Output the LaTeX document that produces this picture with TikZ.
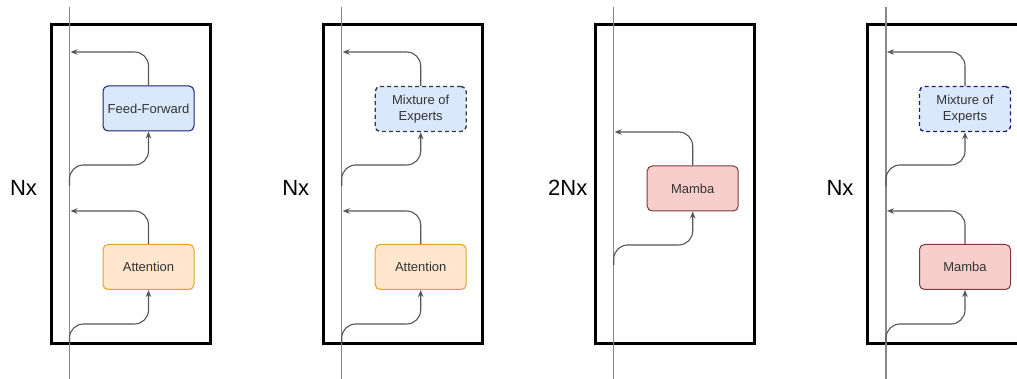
\documentclass[tikz,border=0pt]{standalone}
\usepackage{fontspec}
\setmainfont{Liberation Sans}
\usetikzlibrary{arrows.meta}
\definecolor{ffFill}{HTML}{DAE8FC}
\definecolor{ffDraw}{HTML}{1C1C7A}
\definecolor{moeGray}{HTML}{36393D}
\definecolor{attFill}{HTML}{FFE6CC}
\definecolor{attDraw}{HTML}{DBA628}
\definecolor{mamFill}{HTML}{F8CECC}
\definecolor{mamDraw}{HTML}{7A3A3A}
\definecolor{txt}{HTML}{333333}
\definecolor{conncol}{HTML}{555555}
\definecolor{residcol}{HTML}{888888}
\tikzset{
  frame/.style={draw=black, line width=3pt},
  resid/.style={draw=residcol, line width=1.2pt},
  blk/.style={rounded corners=5pt, minimum width=91pt, minimum height=45pt, inner sep=0pt,
    font=\fontsize{13}{16}\selectfont, text=txt, line width=1pt, align=center},
  ffbox/.style={blk, fill=ffFill, draw=ffDraw},
  moegray/.style={blk, fill=ffFill, draw=moeGray, line width=1.4pt, dash pattern=on 4pt off 3pt},
  moenavy/.style={blk, fill=ffFill, draw=ffDraw, line width=1.4pt, dash pattern=on 4pt off 3pt},
  attbox/.style={blk, fill=attFill, draw=attDraw},
  mambox/.style={blk, fill=mamFill, draw=mamDraw},
  conn/.style={draw=conncol, line width=1.1pt, rounded corners=14pt, -{Stealth[length=7pt,width=5.5pt]}},
  nlab/.style={font=\fontsize{22}{26}\selectfont, text=black},
}
\begin{document}
\begin{tikzpicture}[x=1pt,y=-1pt]
\useasboundingbox (0,0) rectangle (1017,379);
\clip (0,0) rectangle (1017,379);

% ---------- Panel 1 ----------
\begin{scope}[xshift=69.5pt]
\node[nlab] (n1) at (-46,188) {Nx};
\draw[frame] (-18.5,25) rectangle (140.5,343);
\coordinate (t1) at (0,7);
\coordinate (b1) at (0,379);
\draw[resid] (t1) -- (b1);
\node[attbox] (a1) at (79,267) {Attention};
\node[ffbox] (f1) at (79,108.5) {Feed-Forward};
\coordinate (s1a) at (0,343);
\coordinate (h1a) at (79,324);
\coordinate (r1a) at (1,211);
\coordinate (s1b) at (0,186);
\coordinate (h1b) at (79,165);
\coordinate (r1b) at (1,52);
\draw[conn] (s1a) |- (h1a) -- (a1.south);
\draw[conn] (a1.north) |- (r1a);
\draw[conn] (s1b) |- (h1b) -- (f1.south);
\draw[conn] (f1.north) |- (r1b);
\end{scope}

% ---------- Panel 2 ----------
\begin{scope}[xshift=341.7pt]
\node[nlab] (n2) at (-46,188) {Nx};
\draw[frame] (-18.5,25) rectangle (140.5,343);
\coordinate (t2) at (0,7);
\coordinate (b2) at (0,379);
\draw[resid] (t2) -- (b2);
\node[attbox] (a2) at (79,267) {Attention};
\node[moegray] (m2) at (79,109) {Mixture of\\Experts};
\coordinate (s2a) at (0,343);
\coordinate (h2a) at (79,324);
\coordinate (r2a) at (1,211);
\coordinate (s2b) at (0,186);
\coordinate (h2b) at (79,165);
\coordinate (r2b) at (1,52);
\draw[conn] (s2a) |- (h2a) -- (a2.south);
\draw[conn] (a2.north) |- (r2a);
\draw[conn] (s2b) |- (h2b) -- (m2.south);
\draw[conn] (m2.north) |- (r2b);
\end{scope}

% ---------- Panel 3 ----------
\begin{scope}[xshift=613.7pt]
\node[nlab] (n3) at (-46,188) {2Nx};
\draw[frame] (-18.5,25) rectangle (140.5,343);
\coordinate (t3) at (0,7);
\coordinate (b3) at (0,379);
\draw[resid] (t3) -- (b3);
\node[mambox] (k3) at (79,188.5) {Mamba};
\coordinate (s3a) at (0,265);
\coordinate (h3a) at (79,245);
\coordinate (r3a) at (1,132);
\draw[conn] (s3a) |- (h3a) -- (k3.south);
\draw[conn] (k3.north) |- (r3a);
\end{scope}

% ---------- Panel 4 ----------
\begin{scope}[xshift=886pt]
\node[nlab] (n4) at (-46,188) {Nx};
\draw[frame] (-18.5,25) rectangle (140.5,343);
\coordinate (t4) at (0,7);
\coordinate (b4) at (0,379);
\draw[resid] (t4) -- (b4);
\node[mambox] (k4) at (79,267) {Mamba};
\node[moenavy] (m4) at (79,109) {Mixture of\\Experts};
\coordinate (s4a) at (0,343);
\coordinate (h4a) at (79,324);
\coordinate (r4a) at (1,211);
\coordinate (s4b) at (0,186);
\coordinate (h4b) at (79,165);
\coordinate (r4b) at (1,52);
\draw[conn] (s4a) |- (h4a) -- (k4.south);
\draw[conn] (k4.north) |- (r4a);
\draw[conn] (s4b) |- (h4b) -- (m4.south);
\draw[conn] (m4.north) |- (r4b);
\end{scope}
\end{tikzpicture}
\end{document}
